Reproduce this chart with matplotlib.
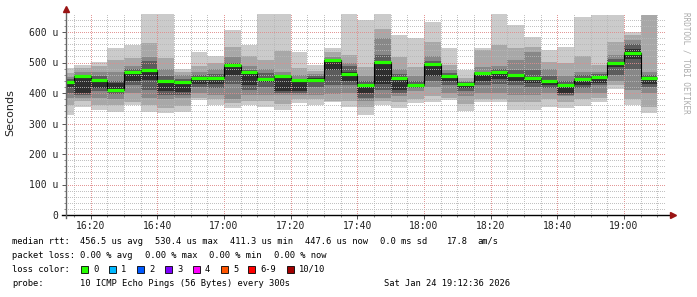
import numpy as np
import matplotlib.pyplot as plt
from matplotlib.patches import Rectangle

# minutes after 16:00 at the end of each 5 min step (16:15 .. 19:10)
t_end = np.arange(15, 195, 5)
t_start_view = 12.6   # 16:12:36
t_stop_view = 192.6   # 19:12:36

# smoke bands (microseconds), outer -> inner
b1_lo = [328, 355, 344, 339, 361, 339, 333, 339, 377, 361, 350, 361, 355, 344, 366, 361, 371, 355,
         328, 361, 352, 366, 371, 377, 341, 371, 369, 344, 344, 355, 352, 358, 371, 413, 361, 336]
b1_hi = [482, 492, 500, 549, 557, 665, 665, 479, 535, 522, 606, 559, 665, 665, 535, 492, 546, 665,
         639, 665, 590, 581, 634, 546, 475, 549, 665, 623, 585, 541, 552, 650, 656, 656, 601, 656]
b2_lo = [360, 375, 360, 360, 372, 362, 350, 358, 383, 380, 368, 375, 375, 365, 380, 380, 375, 375,
         355, 375, 370, 380, 390, 385, 365, 380, 380, 370, 370, 380, 370, 380, 385, 425, 380, 355]
b2_hi = [465, 482, 488, 508, 515, 563, 516, 470, 490, 498, 552, 522, 508, 538, 481, 472, 535, 525,
         486, 610, 519, 486, 568, 492, 450, 541, 559, 546, 552, 503, 497, 522, 492, 568, 590, 655]
b3_lo = [385, 385, 385, 380, 400, 385, 380, 385, 400, 395, 380, 395, 395, 395, 395, 395, 398, 400,
         375, 385, 390, 405, 420, 400, 390, 400, 400, 395, 395, 400, 390, 400, 400, 440, 410, 400]
b3_hi = [452, 468, 470, 470, 490, 519, 480, 458, 470, 478, 519, 490, 478, 470, 458, 462, 518, 500,
         455, 580, 480, 455, 520, 475, 440, 486, 490, 508, 535, 480, 455, 470, 470, 525, 575, 470]
b4_lo = [400, 393, 405, 398, 425, 410, 395, 395, 420, 418, 430, 410, 420, 400, 400, 420, 425, 425,
         385, 410, 400, 415, 440, 425, 405, 425, 430, 425, 420, 415, 395, 415, 425, 460, 480, 420]
b4_hi = [445, 460, 455, 440, 478, 505, 455, 445, 458, 462, 500, 475, 465, 460, 445, 455, 502, 490,
         440, 525, 462, 440, 505, 465, 435, 470, 478, 475, 475, 455, 440, 460, 462, 510, 560, 460]
b5_lo = [420, 400, 418, 410, 440, 443, 406, 402, 428, 430, 459, 425, 435, 406, 405, 440, 475, 440,
         400, 430, 410, 420, 455, 440, 415, 440, 445, 440, 432, 425, 400, 425, 432, 485, 510, 430]
b5_hi = [440, 452, 437, 432, 466, 472, 437, 432, 446, 447, 490, 465, 450, 452, 436, 448, 505, 470,
         425, 500, 445, 430, 490, 452, 430, 462, 465, 455, 446, 438, 422, 443, 450, 500, 545, 448]
median = [436, 455, 442, 411, 468, 475, 439, 435, 448, 450, 492, 470, 446, 455, 441, 443, 508, 463,
          426, 503, 448, 427, 494, 455, 428, 465, 468, 458, 448, 440, 425, 446, 452, 498, 530, 448]

bands = [(b1_lo, b1_hi, '#cbcbcb'), (b2_lo, b2_hi, '#a8a8a8'), (b3_lo, b3_hi, '#888888'),
         (b4_lo, b4_hi, '#5c5c5c'), (b5_lo, b5_hi, '#2e2e2e')]

loss_labels = ['0', '1', '2', '3', '4', '5', '6-9', '10/10']
loss_colors = ['#26ff00', '#00b8ff', '#0059ff', '#7e00ff', '#ff00ff', '#ff5500', '#ff0000', '#a10000']

W, H = 697, 297
fig = plt.figure(figsize=(W / 100, H / 100), dpi=100)
ax = fig.add_axes([66 / W, 82 / H, 600 / W, 201.3 / H])

left = np.maximum(t_end - 5, t_start_view)
right = t_end
width = right - left
edges = np.concatenate([[left[0]], right])

for lo, hi, col in bands:
    lo = np.array(lo)
    hi = np.array(hi)
    ax.bar(left, hi - lo, width, bottom=lo, align='edge', color=col, linewidth=0, zorder=1)

ax.stairs(median, edges, baseline=None, color='black', lw=0.8, zorder=3)
ax.hlines(median, left, right, colors=loss_colors[0], lw=2.3, zorder=4)

ax.set_xlim(t_start_view, t_stop_view)
ax.set_ylim(0, 660)

ax.set_xticks(np.arange(20, 190, 20))
ax.set_xticklabels(['16:20', '16:40', '17:00', '17:20', '17:40', '18:00', '18:20', '18:40', '19:00'])
ax.set_xticks(np.arange(15, 195, 5), minor=True)
ax.set_yticks(np.arange(0, 700, 100))
ax.set_yticklabels(['0'] + ['%d u' % v for v in range(100, 700, 100)])
ax.set_yticks(np.arange(0, 660, 20), minor=True)

ax.set_axisbelow(False)
ax.grid(which='minor', color='#b8b8b8', lw=0.72, ls=(0, (1, 1.5)), alpha=0.85, antialiased=False)
ax.grid(which='major', color='#e08c8c', lw=0.72, ls=(0, (1, 1.5)), alpha=0.9, antialiased=False)

for lab in ax.get_xticklabels() + ax.get_yticklabels():
    lab.set_family('DejaVu Sans Mono')
    lab.set_fontsize(7)
    lab.set_color('#222222')
ax.tick_params(which='major', length=3, width=0.7, color='#555555', pad=1.5)
ax.tick_params(which='minor', length=1.5, width=0.6, color='#777777')
ax.tick_params(axis='y', which='major', pad=2.5)

for s in ax.spines.values():
    s.set_visible(False)
# axis lines with little arrows
ax.plot([-4 / 600, 1 + 5 / 600], [0, 0], transform=ax.transAxes, color='black', lw=1.0, clip_on=False, zorder=5)
ax.plot([0, 0], [-3 / 201, 1 + 3 / 201], transform=ax.transAxes, color='#666666', lw=1.0, clip_on=False, zorder=5)
ax.plot([1 + 7 / 600], [0], marker='>', ms=4.5, color='#9a1414', transform=ax.transAxes, clip_on=False, zorder=6)
ax.plot([0], [1 + 5 / 201], marker='^', ms=4.5, color='#9a1414', transform=ax.transAxes, clip_on=False, zorder=6)

fig.text(10 / W, 1 - 113 / H, 'Seconds', rotation=90, ha='center', va='center',
         fontsize=8, family='DejaVu Sans', color='#222222')
fig.text(686 / W, 1 - 63 / H, 'RRDTOOL / TOBI OETIKER', rotation=270, ha='center', va='center',
         fontsize=5.5, family='DejaVu Sans Mono', color='#aaaaaa')


def put(x, y, s, ha='left'):
    fig.text(x / W, 1 - y / H, s, ha=ha, va='center', fontsize=6.3,
             family='DejaVu Sans Mono', color='black')


rtt_items = [(80, '456.5 us avg'), (155, '530.4 us max'), (230, '411.3 us min'),
             (305, '447.6 us now'), (380, '0.0 ms sd'), (447, '17.8'), (477, 'am/s')]
put(12, 241, 'median rtt:')
for x, s in rtt_items:
    put(x, 241, s)

put(12, 255.5, 'packet loss:')
for x, s in [(80, '0.00 % avg'), (145, '0.00 % max'), (209, '0.00 % min'), (274, '0.00 % now')]:
    put(x, 255.5, s)

put(12, 269.5, 'loss color:')
box_x = [81, 109, 137, 165, 193, 221, 248, 287]
for bx, lab, col in zip(box_x, loss_labels, loss_colors):
    fig.patches.append(Rectangle((bx / W, 1 - 273 / H), 6.5 / W, 7 / H, transform=fig.transFigure,
                                 facecolor=col, edgecolor='black', lw=0.6))
    put(bx + 12, 269.5, lab)

put(12, 283.5, 'probe:')
put(80, 283.5, '10 ICMP Echo Pings (56 Bytes) every 300s')
put(510, 283.5, 'Sat Jan 24 19:12:36 2026', ha='right')

fig.savefig('out.png', dpi=100, facecolor='white')
